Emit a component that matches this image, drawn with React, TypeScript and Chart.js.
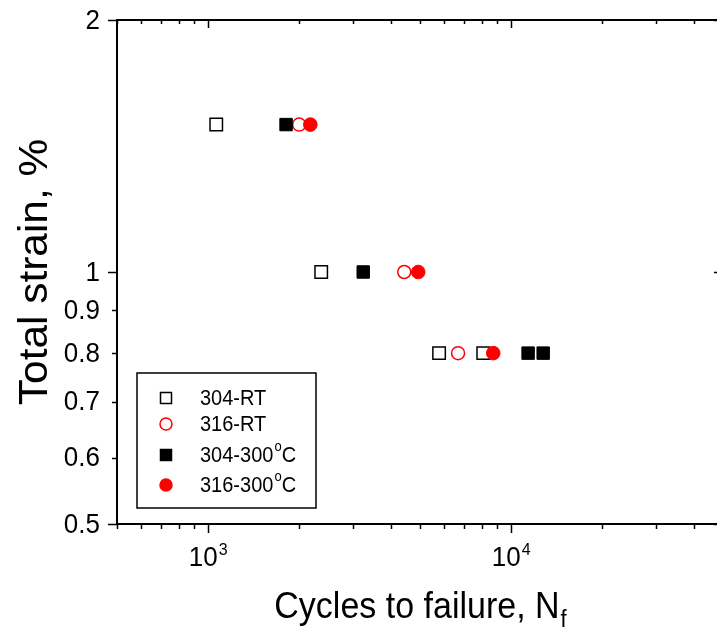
import React, { useEffect, useRef } from 'react';
import { Chart, registerables } from 'chart.js';

Chart.register(...registerables);

// ---------- data ----------
const seriesNames = ['304-RT', '316-RT', '304-300', '316-300'];
const rt304Cycles = [1063, 2360, 5781, 8085];
const rt304Strain = [1.5, 1.0, 0.8, 0.8];
const rt316Cycles = [1996, 4436, 6677];
const rt316Strain = [1.5, 1.0, 0.8];
const hot304Cycles = [1807, 3248, 11370, 12750];
const hot304Strain = [1.5, 1.0, 0.8, 0.8];
const hot316Cycles = [2173, 4933, 8723];
const hot316Strain = [1.5, 1.0, 0.8];

const xMin = 500;
const xMax = 50000;
const yMin = 0.5;
const yMax = 2;
const xMajorTicks = [1000, 10000];
const xMajorExponents = ['3', '4'];
const xMinorTicks = [500, 600, 700, 800, 900, 2000, 3000, 4000, 5000, 6000, 7000, 8000, 9000, 20000, 30000, 40000, 50000];
const yTickValues = [0.5, 0.6, 0.7, 0.8, 0.9, 1, 2];
const yTickLabels = ['0.5', '0.6', '0.7', '0.8', '0.9', '1', '2'];
const yMajorTicks = [0.5, 1, 2];

const FONT = '"Liberation Sans", Arial, sans-serif';
const VSTRETCH = 1.06;

const toPoints = (xs: number[], ys: number[]) => xs.map((x, i) => ({ x, y: ys[i] }));

// draw text slightly stretched vertically around its anchor (matches the reference rendering)
function stretchedText(ctx: CanvasRenderingContext2D, text: string, x: number, y: number) {
  ctx.save();
  ctx.translate(x, y);
  ctx.scale(1, VSTRETCH);
  ctx.fillText(text, 0, 0);
  ctx.restore();
}

const axesPlugin = {
  id: 'customAxes',
  beforeDatasetsDraw(chart: any) {
    const ctx = chart.ctx as CanvasRenderingContext2D;
    const { left, right, top, bottom } = chart.chartArea;
    const xs = chart.scales.x;
    const ys = chart.scales.y;
    ctx.save();
    ctx.strokeStyle = '#000';
    ctx.fillStyle = '#000';
    // frame
    ctx.lineWidth = 2;
    ctx.beginPath();
    ctx.moveTo(left, top);
    ctx.lineTo(right, top);
    ctx.moveTo(left, bottom);
    ctx.lineTo(right, bottom);
    ctx.moveTo(left, top - 1);
    ctx.lineTo(left, bottom + 1);
    ctx.moveTo(right, top - 1);
    ctx.lineTo(right, bottom + 1);
    ctx.stroke();

    // x ticks
    ctx.lineWidth = 1.5;
    ctx.beginPath();
    xMinorTicks.forEach((v) => {
      const px = Math.round(xs.getPixelForValue(v)) + 0.5;
      ctx.moveTo(px, bottom);
      ctx.lineTo(px, bottom + 5);
      ctx.moveTo(px, top);
      ctx.lineTo(px, top + 4);
    });
    xMajorTicks.forEach((v) => {
      const px = Math.round(xs.getPixelForValue(v)) + 0.5;
      ctx.moveTo(px, bottom);
      ctx.lineTo(px, bottom + 9);
      ctx.moveTo(px, top);
      ctx.lineTo(px, top + 8);
    });
    // y ticks
    yTickValues.forEach((v) => {
      const py = Math.round(ys.getPixelForValue(v)) + 0.5;
      const len = yMajorTicks.includes(v) ? 9 : 5;
      ctx.moveTo(left - len, py);
      ctx.lineTo(left, py);
      ctx.moveTo(right - len, py);
      ctx.lineTo(right, py);
    });
    ctx.stroke();

    // x tick labels 10^n
    xMajorTicks.forEach((v, i) => {
      const px = xs.getPixelForValue(v);
      ctx.font = `26px ${FONT}`;
      const w1 = ctx.measureText('10').width;
      ctx.font = `16px ${FONT}`;
      const w2 = ctx.measureText(xMajorExponents[i]).width;
      const start = px - (w1 + 1 + w2) / 2;
      ctx.textAlign = 'left';
      ctx.textBaseline = 'alphabetic';
      ctx.font = `26px ${FONT}`;
      stretchedText(ctx, '10', start, bottom + 42);
      ctx.font = `16px ${FONT}`;
      stretchedText(ctx, xMajorExponents[i], start + w1 + 1, bottom + 31);
    });

    // y tick labels
    ctx.font = `26px ${FONT}`;
    ctx.textAlign = 'right';
    ctx.textBaseline = 'middle';
    yTickValues.forEach((v, i) => {
      const py = ys.getPixelForValue(v);
      stretchedText(ctx, yTickLabels[i], left - 17, py + 1);
    });

    // x title
    ctx.textBaseline = 'alphabetic';
    ctx.textAlign = 'left';
    const main = 'Cycles to failure, N';
    ctx.font = `34px ${FONT}`;
    const wm = ctx.measureText(main).width;
    ctx.font = `22px ${FONT}`;
    const ws = ctx.measureText('f').width;
    const cx = (left + right) / 2;
    const sx = cx - (wm + ws) / 2;
    ctx.font = `34px ${FONT}`;
    stretchedText(ctx, main, sx, 618);
    ctx.font = `22px ${FONT}`;
    stretchedText(ctx, 'f', sx + wm + 1, 627);

    // y title
    ctx.save();
    ctx.translate(47, (top + bottom) / 2);
    ctx.scale(1, VSTRETCH);
    ctx.rotate(-Math.PI / 2);
    ctx.font = `40px ${FONT}`;
    ctx.textAlign = 'center';
    ctx.fillText('Total strain, %', 0, 0);
    ctx.restore();

    ctx.restore();
  },
  afterDraw(chart: any) {
    const ctx = chart.ctx as CanvasRenderingContext2D;
    ctx.save();
    // legend box
    const bx = 137, by = 373, bw = 179, bh = 135;
    ctx.fillStyle = '#fff';
    ctx.fillRect(bx, by, bw, bh);
    ctx.strokeStyle = '#000';
    ctx.lineWidth = 1.5;
    ctx.strokeRect(bx, by, bw, bh);
    const rows = [398, 424, 455, 485];
    const mx = 166;
    const tx = 200;
    chart.data.datasets.forEach((ds: any, i: number) => {
      const y = rows[i];
      ctx.lineWidth = 1.5;
      ctx.strokeStyle = ds.borderColor;
      ctx.fillStyle = ds.backgroundColor;
      ctx.beginPath();
      if (ds.pointStyle === 'rect') {
        ctx.rect(mx - 5.5, y - 5.5, 11, 11);
      } else {
        ctx.arc(mx, y, 6, 0, Math.PI * 2);
      }
      ctx.fill();
      ctx.stroke();
      ctx.fillStyle = '#000';
      ctx.textAlign = 'left';
      ctx.textBaseline = 'middle';
      ctx.font = `20px ${FONT}`;
      const name = seriesNames[i];
      stretchedText(ctx, name, tx, y + 1);
      if (name.endsWith('300')) {
        const w = ctx.measureText(name).width;
        ctx.font = `13px ${FONT}`;
        stretchedText(ctx, 'o', tx + w + 1, y - 8);
        const wo = ctx.measureText('o').width;
        ctx.font = `20px ${FONT}`;
        stretchedText(ctx, 'C', tx + w + wo + 1, y + 1);
      }
    });
    ctx.restore();
  },
};

export default function App() {
  const ref = useRef<HTMLCanvasElement | null>(null);
  useEffect(() => {
    if (!ref.current) return;
    const chart = new Chart(ref.current, {
      type: 'scatter',
      data: {
        datasets: [
          {
            label: seriesNames[0],
            data: toPoints(rt304Cycles, rt304Strain),
            pointStyle: 'rect',
            pointRadius: 8.8,
            borderColor: '#000',
            backgroundColor: 'rgba(255,255,255,0)',
            borderWidth: 1.5,
            order: 4,
          },
          {
            label: seriesNames[1],
            data: toPoints(rt316Cycles, rt316Strain),
            pointStyle: 'circle',
            pointRadius: 6.5,
            borderColor: '#ff0000',
            backgroundColor: 'rgba(255,255,255,0)',
            borderWidth: 1.5,
            order: 3,
          },
          {
            label: seriesNames[2],
            data: toPoints(hot304Cycles, hot304Strain),
            pointStyle: 'rect',
            pointRadius: 8.8,
            borderColor: '#000',
            backgroundColor: '#000',
            borderWidth: 1,
            order: 2,
          },
          {
            label: seriesNames[3],
            data: toPoints(hot316Cycles, hot316Strain),
            pointStyle: 'circle',
            pointRadius: 6.8,
            borderColor: '#ff0000',
            backgroundColor: '#ff0000',
            borderWidth: 1,
            order: 1,
          },
        ] as any,
      },
      options: {
        responsive: false,
        animation: false,
        devicePixelRatio: 1,
        layout: { padding: { left: 117, top: 20, right: 17, bottom: 110 } },
        scales: {
          x: { type: 'logarithmic', min: xMin, max: xMax, display: false },
          y: { type: 'logarithmic', min: yMin, max: yMax, display: false },
        },
        plugins: { legend: { display: false }, tooltip: { enabled: false } },
        elements: { point: { hoverRadius: 0 } },
      } as any,
      plugins: [axesPlugin],
    });
    return () => chart.destroy();
  }, []);
  return (
    <div
      style={{
        position: 'fixed',
        left: 0,
        top: 0,
        width: 717,
        height: 634,
        overflow: 'hidden',
        background: '#fff',
      }}
    >
      <canvas ref={ref} width={740} height={634} style={{ display: 'block', width: 740, height: 634 }} />
    </div>
  );
}
